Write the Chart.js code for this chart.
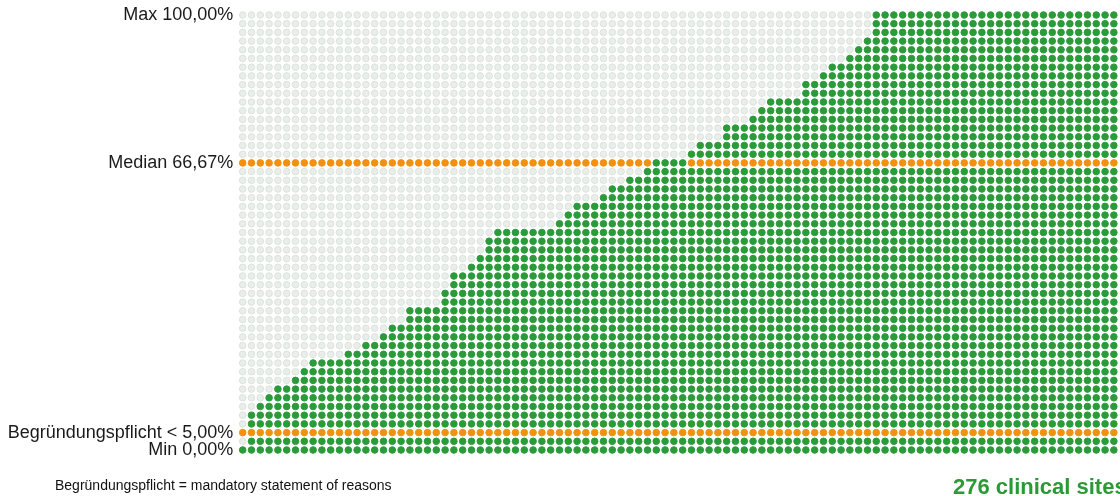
<!DOCTYPE html>
<html>
<head>
<meta charset="utf-8">
<title>Begründungspflicht – clinical sites</title>
<script src="https://cdn.jsdelivr.net/npm/chart.js@4.4.1/dist/chart.umd.min.js"></script>
<style>
  html, body { margin: 0; padding: 0; background: #fff; overflow: hidden; }
  #wrap { position: relative; width: 1120px; height: 496px; }
  .note { position: absolute; font-family: "Liberation Sans", Arial, sans-serif; white-space: nowrap; line-height: 1; }
  #reasonNote { left: 55px; top: 478px; font-size: 14px; color: #111; }
  #siteCount { left: 953px; top: 476px; font-size: 22px; font-weight: bold; color: #2a9a36; }
</style>
</head>
<body>
<div id="wrap">
  <canvas id="dots" width="1120" height="496"></canvas>
  <div class="note" id="reasonNote">Begründungspflicht = mandatory statement of reasons</div>
  <div class="note" id="siteCount">276 clinical sites</div>
</div>
<script>
// Top of each column (percent), columns sorted ascending
const columnTops = [
  0, 8, 10, 12, 14, 14, 16, 18, 20, 20,
  20, 20, 22, 22, 24, 24, 26, 28, 28, 32,
  32, 32, 32, 36, 40, 40, 42, 44, 48, 50,
  50, 50, 50, 50, 50, 50, 52, 54, 56, 56,
  56, 58, 60, 60, 62, 62, 64, 66, 66, 66,
  66, 68, 70, 70, 70, 74, 74, 74, 76, 78,
  80, 80, 80, 80, 84, 84, 86, 88, 88, 90,
  92, 94, 100, 100, 100, 100, 100, 100, 100, 100,
  100, 100, 100, 100, 100, 100, 100, 100, 100, 100,
  100, 100, 100, 100, 100, 100, 100, 100, 100, 100
];

// Reference rows drawn in orange, and the labels on the left
const medianRow = 66;
const thresholdRow = 4;
const markerValues = [100, 66, 4, 0];
const markerLabels = ['Max 100,00%', 'Median 66,67%', 'Begründungspflicht < 5,00%', 'Min 0,00%'];

const ROW_STEP = 2;
const GREEN = '#2b9b3a';
const ORANGE = '#f29111';
const LIGHT = '#e9eeeb';
const LIGHT_RING = '#dbe3de';

function dotColour(v, top) {
  if (v === thresholdRow) return ORANGE;
  if (v === medianRow) return top === medianRow ? GREEN : ORANGE;
  return v <= top ? GREEN : LIGHT;
}

// one point per cell of the grid
const points = [];
const fills = [];
const rings = [];
columnTops.forEach((top, col) => {
  for (let v = 0; v <= 100; v += ROW_STEP) {
    const c = dotColour(v, top);
    points.push({ x: col, y: v });
    fills.push(c);
    rings.push(c === LIGHT ? LIGHT_RING : c);
  }
});

new Chart(document.getElementById('dots'), {
  type: 'scatter',
  data: {
    datasets: [{
      data: points,
      pointRadius: 3.3,
      pointBorderWidth: 1,
      pointBackgroundColor: fills,
      pointBorderColor: rings,
      clip: false
    }]
  },
  options: {
    responsive: false,
    animation: false,
    events: [],
    layout: { padding: { top: 10.65, bottom: 41.65, left: 0, right: 0 } },
    plugins: { legend: { display: false }, tooltip: { enabled: false } },
    scales: {
      x: { type: 'linear', display: false, min: -0.5, max: 99.13 },
      y: {
        type: 'linear',
        min: -1,
        max: 101,
        grid: { display: false, drawTicks: false },
        border: { display: false },
        afterBuildTicks: s => { s.ticks = markerValues.map(v => ({ value: v })); },
        // fixed label column; the top label may overhang the plot area
        afterFit: s => { s.width = 238.3; s.paddingTop = 0; s.paddingBottom = 0; },
        ticks: {
          autoSkip: false,
          padding: 5,
          color: '#1a1a1a',
          font: { family: '"Liberation Sans", Arial, sans-serif', size: 18 },
          callback: (v, i) => markerLabels[i]
        }
      }
    }
  }
});
</script>
</body>
</html>
